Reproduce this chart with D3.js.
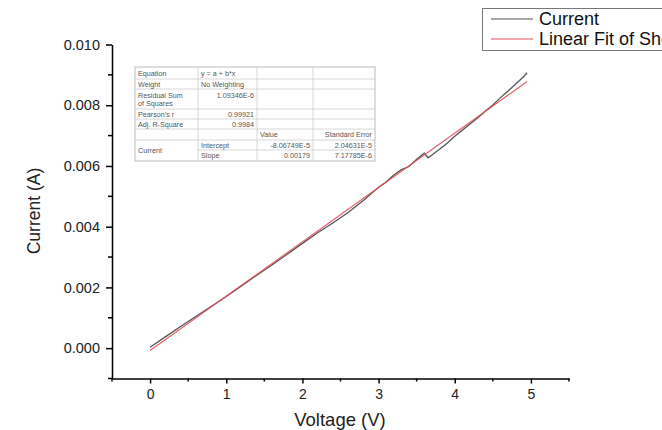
<!DOCTYPE html>
<html><head><meta charset="utf-8">
<script src="https://cdn.jsdelivr.net/npm/d3@7"></script>
<style>body{margin:0;background:#fff;}svg{display:block;font-family:"Liberation Sans",Arial,sans-serif;}</style>
</head><body>
<script>
// Data
const voltage = [0,0.2,0.4,0.6,0.8,1.0,1.2,1.4,1.6,1.8,2.0,2.2,2.4,2.6,2.8,3.0,3.1,3.2,3.3,3.4,3.5,3.6,3.65,3.7,3.8,3.9,4.0,4.1,4.2,4.3,4.4,4.5,4.6,4.7,4.8,4.9,4.95];
const currentMA = [0.03,0.37,0.71,1.04,1.37,1.70,2.05,2.40,2.74,3.09,3.45,3.80,4.12,4.47,4.86,5.30,5.47,5.70,5.88,5.98,6.22,6.42,6.27,6.36,6.55,6.75,6.98,7.18,7.38,7.58,7.80,8.01,8.25,8.47,8.70,8.93,9.07];
const fitVoltage = [0, 4.95];
const fitCurrent = [-0.0000807, 0.00878];
const xTicks = [0,1,2,3,4,5];
const yTicks = [0,0.002,0.004,0.006,0.008,0.010];
const legendLabels = ["Current", "Linear Fit of Sheet1 Current"];
const tableRows = [
  ["Equation","y = a + b*x","",""],
  ["Weight","No Weighting","",""],
  ["Residual Sum\nof Squares","1.09346E-6","",""],
  ["Pearson's r","0.99921","",""],
  ["Adj. R-Square","0.9984","",""],
  ["","","Value","Standard Error"],
  ["Current","Intercept","-8.06749E-5","2.04631E-5"],
  ["","Slope","0.00179","7.17785E-6"]
];

const W=662,H=430;
const svg=d3.select("body").append("svg").attr("width",W).attr("height",H);
const x=d3.scaleLinear().domain([-0.5,5.5]).range([112,569]);
const y=d3.scaleLinear().domain([-0.001,0.010]).range([378.5,44.5]);

// axes
const xAxis=d3.axisBottom(x).tickValues(xTicks).tickFormat(d3.format("d")).tickSize(5).tickSizeOuter(0);
const gx=svg.append("g").attr("transform",`translate(0,${y.range()[0]})`).call(xAxis);
gx.append("g").selectAll("line").data(d3.range(-0.5,5.51,1)).join("line")
  .attr("x1",d=>x(d)).attr("x2",d=>x(d)).attr("y1",0).attr("y2",3).attr("stroke","#000").attr("stroke-width",1.5);
gx.select(".domain").attr("stroke-width",1.5);
gx.selectAll(".tick line").attr("stroke-width",1.5);
gx.selectAll(".tick text").attr("font-size",14).attr("fill","#222").attr("dy","0.9em");

const yAxis=d3.axisLeft(y).tickValues(yTicks).tickFormat(d3.format(".3f")).tickSize(6).tickSizeOuter(0);
const gy=svg.append("g").attr("transform",`translate(${x.range()[0]},0)`).call(yAxis);
gy.append("g").selectAll("line").data(d3.range(-0.001,0.0095,0.002)).join("line")
  .attr("x1",0).attr("x2",-4).attr("y1",d=>y(d)).attr("y2",d=>y(d)).attr("stroke","#000").attr("stroke-width",1.5);
gy.select(".domain").attr("stroke-width",1.5);
gy.selectAll(".tick line").attr("stroke-width",1.5);
gy.selectAll(".tick text").attr("font-size",14.5).attr("fill","#222").attr("x",-12);

svg.append("text").attr("x",340).attr("y",426).attr("text-anchor","middle").attr("font-size",18.5).attr("fill","#222").text("Voltage (V)");
svg.append("text").attr("transform","translate(40,211) rotate(-90)").attr("text-anchor","middle").attr("font-size",17.5).attr("fill","#222").text("Current (A)");

// lines
const pts=voltage.map((v,i)=>[v,currentMA[i]/1000]);
const line=d3.line().x(d=>x(d[0])).y(d=>y(d[1]));
svg.append("path").attr("d",line(pts)).attr("fill","none").attr("stroke","#555").attr("stroke-width",1.3);
svg.append("path").attr("d",line(fitVoltage.map((v,i)=>[v,fitCurrent[i]]))).attr("fill","none").attr("stroke","#e0505a").attr("stroke-width",1.2).attr("opacity",0.9);

// legend
const lg=svg.append("g");
lg.append("rect").attr("x",482.5).attr("y",8.5).attr("width",200).attr("height",42).attr("fill","#fff").attr("stroke","#777");
const lcol=["#555","#e0505a"];
legendLabels.forEach((t,i)=>{
  const yy=19+i*20;
  lg.append("line").attr("x1",491).attr("x2",533).attr("y1",yy).attr("y2",yy).attr("stroke",lcol[i]).attr("stroke-width",1.2);
  lg.append("text").attr("x",539).attr("y",yy).attr("dy","0.35em").attr("font-size",18).attr("fill","#111").text(t);
});

// table
const colX=[135,198,257,313,375];
const rowY=[67,79,89,109,119,129,140,150,161];
const tg=svg.append("g").attr("font-size",7.2).attr("fill","#555");
tg.append("rect").attr("x",colX[0]).attr("y",rowY[0]).attr("width",colX[4]-colX[0]).attr("height",rowY[8]-rowY[0]).attr("fill","#fff").attr("stroke","#aaa").attr("stroke-width",0.8);
for(let r=1;r<rowY.length-1;r++){
  tg.append("line").attr("x1",r===7?colX[1]:colX[0]).attr("x2",colX[4]).attr("y1",rowY[r]).attr("y2",rowY[r]).attr("stroke","#ccc").attr("stroke-width",0.8);
}
for(let c=1;c<4;c++){
  tg.append("line").attr("x1",colX[c]).attr("x2",colX[c]).attr("y1",rowY[0]).attr("y2",rowY[8]).attr("stroke","#ccc").attr("stroke-width",0.8);
}
tableRows.forEach((row,r)=>{
  row.forEach((t,c)=>{
    if(!t) return;
    const isNum=/^-?\d/.test(t) || t==="Standard Error";
    const anchor=isNum?"end":"start";
    const tx=isNum?colX[c+1]-3:colX[c]+3;
    let cy=(rowY[r]+rowY[r+1])/2;
    if(r===6&&c===0) cy=rowY[7];
    const lines=t.split("\n");
    lines.forEach((ln,k)=>{
      const off=(k-(lines.length-1)/2)*8;
      const yy=(r===2&&c===1)?rowY[r]+6:cy+off;
      tg.append("text").attr("x",tx).attr("y",yy).attr("dy","0.35em").attr("text-anchor",anchor).text(ln);
    });
  });
});
</script>
</body></html>
